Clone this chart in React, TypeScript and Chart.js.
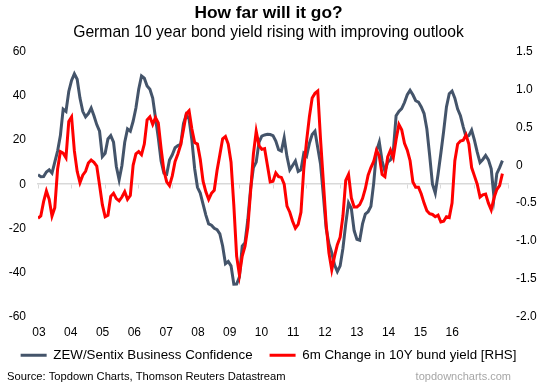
import React, { useEffect, useRef } from "react";
import { Chart, registerables } from "chart.js";

Chart.register(...registerables);

const FONT = "'Liberation Sans', Arial, sans-serif";

const TITLE = "How far will it go?";
const SUBTITLE = "German 10 year bond yield rising with improving outlook";
const SOURCE_TEXT = "Source: Topdown Charts, Thomson Reuters Datastream";
const SITE_TEXT = "topdowncharts.com";

const YEAR_LABELS = ["03", "04", "05", "06", "07", "08", "09", "10", "11", "12", "13", "14", "15", "16"];

const SERIES_NAMES = ["ZEW/Sentix Business Confidence", "6m Change in 10Y bund yield [RHS]"];
const SERIES_COLORS = ["#44546a", "#ff0000"];

// Monthly, Jan 2003 .. Nov 2016
const ZEW = [
  4.3, 3.4, 3.5, 5.5, 6.5, 5, 10, 15, 22, 34,
  33, 42, 47, 50, 47.5, 39, 33, 30.5, 32, 34.5,
  31, 27, 24, 12.5, 14, 20.5, 22, 19, 8, 2,
  8.5, 19, 25, 24, 28.5, 34.5, 43, 49, 48, 44.5,
  43, 39, 30, 21, 10.5, 5, 4.5, 11, 13.3, 16.5,
  17.5, 18, 27.5, 31.5, 29.5, 20, 7, -1.4, -4, -9,
  -14, -18, -18.6, -20, -20.6, -22.5, -28, -36, -35, -37,
  -45.3, -45.2, -42, -28, -26.5, -16, -2, 7.5, 10, 19,
  21.8, 22.3, 22.6, 22.5, 22, 19.5, 15.6, 15, 21, 12.5,
  6.5, 8.5, 10.5, 5.8, 6.5, 14, 12.7, 18.5, 22.5, 24,
  16.5, 9, -5, -20, -27, -31, -36.5, -39.6, -37, -29,
  -18, -8.5, -11, -21, -25, -25.4, -18, -13.5, -12.5, -10,
  0.5, 15, 19, 10.5, 5.8, 10, 11, 15, 31, 33,
  34.2, 37, 40.5, 42.5, 40.5, 37.8, 37.2, 35, 32, 25,
  13, 0, -4, 4.5, 14, 24, 35, 41, 42.2, 39,
  34, 31, 26, 21.5, 22, 24.5, 20, 14.5, 9.8, 11.2,
  13, 11, 7, -6, 4.8, 7.5, 10.7,
];

const BUND_CHANGE = [
  -0.70, -0.67, -0.48, -0.34, -0.45, -0.67, -0.56, -0.05, 0.18, 0.16,
  0.10, 0.58, 0.64, 0.19, -0.08, -0.23, -0.13, -0.08, 0.03, 0.07,
  0.04, -0.01, -0.26, -0.52, -0.68, -0.66, -0.41, -0.37, -0.44, -0.47,
  -0.42, -0.35, -0.45, -0.40, 0.00, 0.15, 0.18, 0.14, 0.28, 0.60,
  0.64, 0.54, 0.63, 0.56, 0.22, -0.07, -0.22, -0.27, -0.14, 0.05,
  0.15, 0.27, 0.47, 0.68, 0.72, 0.48, 0.30, 0.28, 0.08, -0.21,
  -0.35, -0.45, -0.37, -0.33, -0.07, 0.14, 0.35, 0.38, 0.28, 0.04,
  -0.53, -1.20, -1.45, -1.20, -1.07, -0.82, -0.34, 0.15, 0.45, 0.26,
  0.21, 0.22, 0.00, -0.22, -0.21, -0.10, -0.15, -0.16, -0.25, -0.54,
  -0.62, -0.74, -0.83, -0.78, -0.62, -0.05, 0.32, 0.64, 0.89, 0.95,
  0.98, 0.34, -0.22, -0.78, -1.16, -1.38, -1.20, -1.05, -0.95, -0.67,
  -0.20, -0.12, -0.43, -0.55, -0.55, -0.52, -0.44, -0.31, -0.13, -0.03,
  0.05, 0.20, 0.12, -0.12, -0.15, 0.11, 0.20, 0.10, 0.34, 0.54,
  0.47, 0.29, 0.20, 0.06, -0.22, -0.29, -0.29, -0.38, -0.50, -0.60,
  -0.64, -0.65, -0.68, -0.66, -0.75, -0.74, -0.68, -0.69, -0.50, 0.06,
  0.28, 0.32, 0.33, 0.40, 0.28, -0.03, -0.14, -0.25, -0.42, -0.39,
  -0.38, -0.50, -0.59, -0.43, -0.32, -0.27, -0.11,
];

const LEGEND_SHIFT_UP = 11;

const sourcePlugin = {
  id: "sourceText",
  afterLayout(chart: any) {
    const lg = chart.legend;
    if (lg) {
      lg.top -= LEGEND_SHIFT_UP;
      lg.bottom -= LEGEND_SHIFT_UP;
    }
  },
  afterDraw(chart: any) {
    const ctx = chart.ctx;
    ctx.save();
    ctx.textBaseline = "middle";
    ctx.font = `11.2px ${FONT}`;
    ctx.fillStyle = "#000";
    ctx.textAlign = "left";
    ctx.fillText(SOURCE_TEXT, 7, 377);
    ctx.font = `11px ${FONT}`;
    ctx.fillStyle = "#a6a6a6";
    ctx.textAlign = "right";
    ctx.fillText(SITE_TEXT, 511, 377);
    ctx.restore();
  },
};

export default function App() {
  const ref = useRef<HTMLCanvasElement | null>(null);

  useEffect(() => {
    if (!ref.current) return;
    const toPoints = (arr: number[]) => arr.map((v, i) => ({ x: i, y: v }));
    const tickFont = { family: FONT, size: 12 };
    const chart = new Chart(ref.current, {
      type: "line",
      data: {
        datasets: [
          {
            label: SERIES_NAMES[0],
            data: toPoints(ZEW),
            borderColor: SERIES_COLORS[0],
            backgroundColor: SERIES_COLORS[0],
            borderWidth: 3,
            pointRadius: 0,
            yAxisID: "y",
            xAxisID: "x",
            order: 1,
          },
          {
            label: SERIES_NAMES[1],
            data: toPoints(BUND_CHANGE),
            borderColor: SERIES_COLORS[1],
            backgroundColor: SERIES_COLORS[1],
            borderWidth: 3,
            pointRadius: 0,
            yAxisID: "y1",
            xAxisID: "x",
            order: 0,
          },
        ],
      },
      options: {
        responsive: false,
        animation: false,
        layout: { padding: { left: 0, right: 14, top: 0, bottom: 5 } },
        plugins: {
          title: {
            display: true,
            text: TITLE,
            color: "#000",
            font: { family: FONT, size: 17.33, weight: "bold" },
            padding: { top: 2.6, bottom: 0 },
          },
          subtitle: {
            display: true,
            text: SUBTITLE,
            color: "#000",
            font: { family: FONT, size: 15.7 },
            padding: { top: 0, bottom: 9.5 },
          },
          legend: {
            position: "bottom",
            labels: {
              boxWidth: 26,
              boxHeight: 3,
              padding: 17,
              color: "#000",
              font: { family: FONT, size: 13.33 },
              generateLabels: (c: any) =>
                c.data.datasets.map((ds: any, i: number) => ({
                  text: ds.label,
                  fillStyle: ds.borderColor,
                  strokeStyle: ds.borderColor,
                  lineWidth: 0,
                  hidden: false,
                  datasetIndex: i,
                })),
            },
          },
          tooltip: { enabled: false },
        },
        scales: {
          x: {
            type: "linear",
            position: "bottom",
            min: 0,
            max: 168,
            grid: { display: false, drawTicks: false },
            border: { display: false },
            ticks: {
              font: tickFont,
              color: "#000",
              padding: 9,
              autoSkip: false,
              maxRotation: 0,
              callback: (_v: any, i: number) => YEAR_LABELS[i],
            },
            afterBuildTicks: (s: any) => {
              s.ticks = YEAR_LABELS.map((_, k) => ({ value: 0.36 + 11.36 * k }));
            },
            afterFit: (s: any) => {
              s.height = 26;
            },
          },
          xz: {
            type: "linear",
            position: { y: 0 },
            min: 0,
            max: 168,
            ticks: { display: false, stepSize: 12 },
            grid: { drawOnChartArea: false, drawTicks: true, tickLength: 4, color: "#d9d9d9", lineWidth: 1 },
            border: { display: true, color: "#d9d9d9", width: 1.5 },
          },
          y: {
            position: "left",
            min: -60,
            max: 60,
            ticks: { stepSize: 20, font: tickFont, color: "#000", padding: 12 },
            grid: { display: false, drawTicks: false },
            border: { display: false },
            afterFit: (s: any) => {
              s.width = 38;
            },
          },
          y1: {
            position: "right",
            min: -2,
            max: 1.5,
            ticks: { stepSize: 0.5, font: tickFont, color: "#000", padding: 8 },
            grid: { display: false, drawTicks: false },
            border: { display: false },
            afterFit: (s: any) => {
              s.width = 29;
            },
          },
        },
      } as any,
      plugins: [sourcePlugin],
    });
    return () => chart.destroy();
  }, []);

  return (
    <div style={{ position: "absolute", left: 0, top: 0, width: 551, height: 388, background: "#fff" }}>
      <canvas ref={ref} width={551} height={388} />
    </div>
  );
}
